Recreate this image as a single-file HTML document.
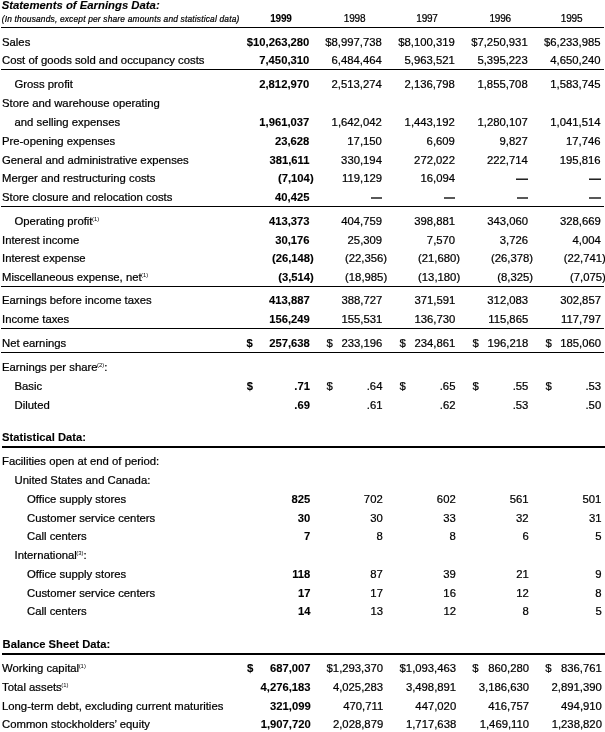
<!DOCTYPE html>
<html><head><meta charset="utf-8"><title>Statements of Earnings Data</title>
<style>
html,body{margin:0;padding:0;background:#fff;}
body{width:605px;height:732px;position:relative;overflow:hidden;filter:grayscale(1);font-family:"Liberation Sans",sans-serif;color:#000;}
.t{position:absolute;white-space:nowrap;-webkit-text-stroke:0.22px #000;line-height:19px;height:19px;}
.r{text-align:right;}
.c{text-align:center;}
.b{font-weight:bold;-webkit-text-stroke:0.1px #000;}
.i{font-style:italic;}
.bi{font-weight:bold;font-style:italic;-webkit-text-stroke:0.1px #000;}
.rule{position:absolute;left:1.4px;width:602.6px;background:#000;}
.rule.k{left:2px;width:603px;}
.sup{font-size:5.9px;position:relative;top:-3.4px;-webkit-text-stroke:0;margin-left:-0.5px;}
.hang{display:inline-block;width:0;overflow:visible;}
.d2{background:#585858 !important;}
.dash{display:inline-block;width:11.4px;height:2px;vertical-align:2px;background:linear-gradient(#8a8a8a 0,#8a8a8a 50%,#222 50%,#222 100%);}
</style></head><body>
<div class="t bi" style="left:1.70px;top:-4.18px;font-size:11.34px;">Statements of Earnings Data:</div>
<div class="t i" style="left:1.80px;top:9.84px;font-size:8.4px;letter-spacing:0.18px;">(In thousands, except per share amounts and statistical data)</div>
<div class="t c b" style="left:230.90px;width:100px;top:9.29px;font-size:10.0px;letter-spacing:-0.2px;">1999</div>
<div class="t c " style="left:304.60px;width:100px;top:9.29px;font-size:10.0px;letter-spacing:-0.2px;">1998</div>
<div class="t c " style="left:377.00px;width:100px;top:9.29px;font-size:10.0px;letter-spacing:-0.2px;">1997</div>
<div class="t c " style="left:450.20px;width:100px;top:9.29px;font-size:10.0px;letter-spacing:-0.2px;">1996</div>
<div class="t c " style="left:521.60px;width:100px;top:9.29px;font-size:10.0px;letter-spacing:-0.2px;">1995</div>
<div class="rule" style="top:26.80px;height:1.40px;"></div>
<div class="t " style="left:2.00px;top:32.83px;font-size:11.32px;">Sales</div>
<div class="t r b" style="left:209.30px;width:100px;top:32.85px;font-size:11.25px;">$10,263,280</div>
<div class="t r " style="left:281.80px;width:100px;top:32.83px;font-size:11.3px;">$8,997,738</div>
<div class="t r " style="left:354.80px;width:100px;top:32.83px;font-size:11.3px;">$8,100,319</div>
<div class="t r " style="left:427.70px;width:100px;top:32.83px;font-size:11.3px;">$7,250,931</div>
<div class="t r " style="left:500.50px;width:100px;top:32.83px;font-size:11.3px;">$6,233,985</div>
<div class="t " style="left:2.00px;top:50.83px;font-size:11.32px;">Cost of goods sold and occupancy costs</div>
<div class="t r b" style="left:209.30px;width:100px;top:50.85px;font-size:11.25px;">7,450,310</div>
<div class="t r " style="left:281.80px;width:100px;top:50.83px;font-size:11.3px;">6,484,464</div>
<div class="t r " style="left:354.80px;width:100px;top:50.83px;font-size:11.3px;">5,963,521</div>
<div class="t r " style="left:427.70px;width:100px;top:50.83px;font-size:11.3px;">5,395,223</div>
<div class="t r " style="left:500.50px;width:100px;top:50.83px;font-size:11.3px;">4,650,240</div>
<div class="rule" style="top:68.80px;height:1.15px;"></div>
<div class="t " style="left:14.50px;top:74.83px;font-size:11.32px;">Gross profit</div>
<div class="t r b" style="left:209.30px;width:100px;top:74.85px;font-size:11.25px;">2,812,970</div>
<div class="t r " style="left:281.80px;width:100px;top:74.83px;font-size:11.3px;">2,513,274</div>
<div class="t r " style="left:354.80px;width:100px;top:74.83px;font-size:11.3px;">2,136,798</div>
<div class="t r " style="left:427.70px;width:100px;top:74.83px;font-size:11.3px;">1,855,708</div>
<div class="t r " style="left:500.50px;width:100px;top:74.83px;font-size:11.3px;">1,583,745</div>
<div class="t " style="left:2.00px;top:93.83px;font-size:11.32px;">Store and warehouse operating</div>
<div class="t " style="left:14.50px;top:112.83px;font-size:11.32px;">and selling expenses</div>
<div class="t r b" style="left:209.36px;width:100px;top:112.85px;font-size:11.25px;">1,961,037</div>
<div class="t r " style="left:281.86px;width:100px;top:112.83px;font-size:11.3px;">1,642,042</div>
<div class="t r " style="left:354.86px;width:100px;top:112.83px;font-size:11.3px;">1,443,192</div>
<div class="t r " style="left:427.76px;width:100px;top:112.83px;font-size:11.3px;">1,280,107</div>
<div class="t r " style="left:500.56px;width:100px;top:112.83px;font-size:11.3px;">1,041,514</div>
<div class="t " style="left:2.00px;top:131.83px;font-size:11.32px;">Pre-opening expenses</div>
<div class="t r b" style="left:209.40px;width:100px;top:131.85px;font-size:11.25px;">23,628</div>
<div class="t r " style="left:281.90px;width:100px;top:131.83px;font-size:11.3px;">17,150</div>
<div class="t r " style="left:354.90px;width:100px;top:131.83px;font-size:11.3px;">6,609</div>
<div class="t r " style="left:427.80px;width:100px;top:131.83px;font-size:11.3px;">9,827</div>
<div class="t r " style="left:500.60px;width:100px;top:131.83px;font-size:11.3px;">17,746</div>
<div class="t " style="left:2.00px;top:150.83px;font-size:11.32px;">General and administrative expenses</div>
<div class="t r b" style="left:209.45px;width:100px;top:150.85px;font-size:11.25px;">381,611</div>
<div class="t r " style="left:281.95px;width:100px;top:150.83px;font-size:11.3px;">330,194</div>
<div class="t r " style="left:354.95px;width:100px;top:150.83px;font-size:11.3px;">272,022</div>
<div class="t r " style="left:427.85px;width:100px;top:150.83px;font-size:11.3px;">222,714</div>
<div class="t r " style="left:500.65px;width:100px;top:150.83px;font-size:11.3px;">195,816</div>
<div class="t " style="left:2.00px;top:168.83px;font-size:11.32px;">Merger and restructuring costs</div>
<div class="t r b" style="left:209.89px;width:100px;top:168.85px;font-size:11.25px;">(7,104<span class="hang">)</span></div>
<div class="t r " style="left:281.99px;width:100px;top:168.83px;font-size:11.3px;">119,129</div>
<div class="t r " style="left:354.99px;width:100px;top:168.83px;font-size:11.3px;">16,094</div>
<div class="t r " style="left:427.89px;width:100px;top:168.83px;font-size:11.3px;"><span class="dash"></span></div>
<div class="t r " style="left:500.69px;width:100px;top:168.83px;font-size:11.3px;"><span class="dash"></span></div>
<div class="t " style="left:2.00px;top:187.83px;font-size:11.32px;">Store closure and relocation costs</div>
<div class="t r b" style="left:209.53px;width:100px;top:187.85px;font-size:11.25px;">40,425</div>
<div class="t r " style="left:282.03px;width:100px;top:187.83px;font-size:11.3px;"><span class="dash d2"></span></div>
<div class="t r " style="left:355.03px;width:100px;top:187.83px;font-size:11.3px;"><span class="dash d2"></span></div>
<div class="t r " style="left:427.93px;width:100px;top:187.83px;font-size:11.3px;"><span class="dash d2"></span></div>
<div class="t r " style="left:500.73px;width:100px;top:187.83px;font-size:11.3px;"><span class="dash d2"></span></div>
<div class="rule" style="top:205.65px;height:1.10px;"></div>
<div class="t " style="left:14.50px;top:211.83px;font-size:11.32px;">Operating profit<span class="sup">(1)</span></div>
<div class="t r b" style="left:209.59px;width:100px;top:211.85px;font-size:11.25px;">413,373</div>
<div class="t r " style="left:282.09px;width:100px;top:211.83px;font-size:11.3px;">404,759</div>
<div class="t r " style="left:355.09px;width:100px;top:211.83px;font-size:11.3px;">398,881</div>
<div class="t r " style="left:427.99px;width:100px;top:211.83px;font-size:11.3px;">343,060</div>
<div class="t r " style="left:500.79px;width:100px;top:211.83px;font-size:11.3px;">328,669</div>
<div class="t " style="left:2.00px;top:230.83px;font-size:11.32px;">Interest income</div>
<div class="t r b" style="left:209.63px;width:100px;top:230.85px;font-size:11.25px;">30,176</div>
<div class="t r " style="left:282.13px;width:100px;top:230.83px;font-size:11.3px;">25,309</div>
<div class="t r " style="left:355.13px;width:100px;top:230.83px;font-size:11.3px;">7,570</div>
<div class="t r " style="left:428.03px;width:100px;top:230.83px;font-size:11.3px;">3,726</div>
<div class="t r " style="left:500.83px;width:100px;top:230.83px;font-size:11.3px;">4,004</div>
<div class="t " style="left:2.00px;top:248.83px;font-size:11.32px;">Interest expense</div>
<div class="t r b" style="left:210.07px;width:100px;top:248.85px;font-size:11.25px;">(26,148<span class="hang">)</span></div>
<div class="t r " style="left:283.37px;width:100px;top:248.83px;font-size:11.3px;">(22,356<span class="hang">)</span></div>
<div class="t r " style="left:356.37px;width:100px;top:248.83px;font-size:11.3px;">(21,680<span class="hang">)</span></div>
<div class="t r " style="left:429.27px;width:100px;top:248.83px;font-size:11.3px;">(26,378<span class="hang">)</span></div>
<div class="t r " style="left:502.07px;width:100px;top:248.83px;font-size:11.3px;">(22,741<span class="hang">)</span></div>
<div class="t " style="left:2.00px;top:267.83px;font-size:11.32px;">Miscellaneous expense, net<span class="sup">(1)</span></div>
<div class="t r b" style="left:210.11px;width:100px;top:267.85px;font-size:11.25px;">(3,514<span class="hang">)</span></div>
<div class="t r " style="left:283.41px;width:100px;top:267.83px;font-size:11.3px;">(18,985<span class="hang">)</span></div>
<div class="t r " style="left:356.41px;width:100px;top:267.83px;font-size:11.3px;">(13,180<span class="hang">)</span></div>
<div class="t r " style="left:429.31px;width:100px;top:267.83px;font-size:11.3px;">(8,325<span class="hang">)</span></div>
<div class="t r " style="left:502.11px;width:100px;top:267.83px;font-size:11.3px;">(7,075<span class="hang">)</span></div>
<div class="rule" style="top:285.90px;height:1.15px;"></div>
<div class="t " style="left:2.00px;top:290.83px;font-size:11.32px;">Earnings before income taxes</div>
<div class="t r b" style="left:209.77px;width:100px;top:290.85px;font-size:11.25px;">413,887</div>
<div class="t r " style="left:282.27px;width:100px;top:290.83px;font-size:11.3px;">388,727</div>
<div class="t r " style="left:355.27px;width:100px;top:290.83px;font-size:11.3px;">371,591</div>
<div class="t r " style="left:428.17px;width:100px;top:290.83px;font-size:11.3px;">312,083</div>
<div class="t r " style="left:500.97px;width:100px;top:290.83px;font-size:11.3px;">302,857</div>
<div class="t " style="left:2.00px;top:309.83px;font-size:11.32px;">Income taxes</div>
<div class="t r b" style="left:209.81px;width:100px;top:309.85px;font-size:11.25px;">156,249</div>
<div class="t r " style="left:282.31px;width:100px;top:309.83px;font-size:11.3px;">155,531</div>
<div class="t r " style="left:355.31px;width:100px;top:309.83px;font-size:11.3px;">136,730</div>
<div class="t r " style="left:428.21px;width:100px;top:309.83px;font-size:11.3px;">115,865</div>
<div class="t r " style="left:501.01px;width:100px;top:309.83px;font-size:11.3px;">117,797</div>
<div class="rule" style="top:327.90px;height:1.15px;"></div>
<div class="t " style="left:2.00px;top:333.83px;font-size:11.32px;">Net earnings</div>
<div class="t r b" style="left:209.86px;width:100px;top:333.85px;font-size:11.25px;">257,638</div>
<div class="t b" style="left:246.56px;top:333.85px;font-size:11.25px;">$</div>
<div class="t r " style="left:282.36px;width:100px;top:333.83px;font-size:11.3px;">233,196</div>
<div class="t " style="left:326.46px;top:333.83px;font-size:11.3px;">$</div>
<div class="t r " style="left:355.36px;width:100px;top:333.83px;font-size:11.3px;">234,861</div>
<div class="t " style="left:399.46px;top:333.83px;font-size:11.3px;">$</div>
<div class="t r " style="left:428.26px;width:100px;top:333.83px;font-size:11.3px;">196,218</div>
<div class="t " style="left:472.46px;top:333.83px;font-size:11.3px;">$</div>
<div class="t r " style="left:501.06px;width:100px;top:333.83px;font-size:11.3px;">185,060</div>
<div class="t " style="left:545.46px;top:333.83px;font-size:11.3px;">$</div>
<div class="rule" style="top:351.90px;height:1.15px;"></div>
<div class="t " style="left:2.00px;top:357.83px;font-size:11.32px;">Earnings per share<span class="sup">(2)</span>:</div>
<div class="t " style="left:14.50px;top:376.83px;font-size:11.32px;">Basic</div>
<div class="t r b" style="left:209.96px;width:100px;top:376.85px;font-size:11.25px;">.71</div>
<div class="t b" style="left:246.66px;top:376.85px;font-size:11.25px;">$</div>
<div class="t r " style="left:282.46px;width:100px;top:376.83px;font-size:11.3px;">.64</div>
<div class="t " style="left:326.56px;top:376.83px;font-size:11.3px;">$</div>
<div class="t r " style="left:355.46px;width:100px;top:376.83px;font-size:11.3px;">.65</div>
<div class="t " style="left:399.56px;top:376.83px;font-size:11.3px;">$</div>
<div class="t r " style="left:428.36px;width:100px;top:376.83px;font-size:11.3px;">.55</div>
<div class="t " style="left:472.56px;top:376.83px;font-size:11.3px;">$</div>
<div class="t r " style="left:501.16px;width:100px;top:376.83px;font-size:11.3px;">.53</div>
<div class="t " style="left:545.56px;top:376.83px;font-size:11.3px;">$</div>
<div class="t " style="left:14.50px;top:395.83px;font-size:11.32px;">Diluted</div>
<div class="t r b" style="left:210.00px;width:100px;top:395.85px;font-size:11.25px;">.69</div>
<div class="t r " style="left:282.50px;width:100px;top:395.83px;font-size:11.3px;">.61</div>
<div class="t r " style="left:355.50px;width:100px;top:395.83px;font-size:11.3px;">.62</div>
<div class="t r " style="left:428.40px;width:100px;top:395.83px;font-size:11.3px;">.53</div>
<div class="t r " style="left:501.20px;width:100px;top:395.83px;font-size:11.3px;">.50</div>
<div class="t b" style="left:2.00px;top:427.87px;font-size:11.2px;">Statistical Data:</div>
<div class="rule k" style="top:446.10px;height:1.70px;"></div>
<div class="t " style="left:2.00px;top:451.83px;font-size:11.32px;">Facilities open at end of period:</div>
<div class="t " style="left:14.50px;top:470.83px;font-size:11.32px;">United States and Canada:</div>
<div class="t " style="left:27.00px;top:489.83px;font-size:11.32px;">Office supply stores</div>
<div class="t r b" style="left:210.22px;width:100px;top:489.85px;font-size:11.25px;">825</div>
<div class="t r " style="left:282.72px;width:100px;top:489.83px;font-size:11.3px;">702</div>
<div class="t r " style="left:355.72px;width:100px;top:489.83px;font-size:11.3px;">602</div>
<div class="t r " style="left:428.62px;width:100px;top:489.83px;font-size:11.3px;">561</div>
<div class="t r " style="left:501.42px;width:100px;top:489.83px;font-size:11.3px;">501</div>
<div class="t " style="left:27.00px;top:508.83px;font-size:11.32px;">Customer service centers</div>
<div class="t r b" style="left:210.26px;width:100px;top:508.85px;font-size:11.25px;">30</div>
<div class="t r " style="left:282.76px;width:100px;top:508.83px;font-size:11.3px;">30</div>
<div class="t r " style="left:355.76px;width:100px;top:508.83px;font-size:11.3px;">33</div>
<div class="t r " style="left:428.66px;width:100px;top:508.83px;font-size:11.3px;">32</div>
<div class="t r " style="left:501.46px;width:100px;top:508.83px;font-size:11.3px;">31</div>
<div class="t " style="left:27.00px;top:526.83px;font-size:11.32px;">Call centers</div>
<div class="t r b" style="left:210.31px;width:100px;top:526.85px;font-size:11.25px;">7</div>
<div class="t r " style="left:282.81px;width:100px;top:526.83px;font-size:11.3px;">8</div>
<div class="t r " style="left:355.81px;width:100px;top:526.83px;font-size:11.3px;">8</div>
<div class="t r " style="left:428.71px;width:100px;top:526.83px;font-size:11.3px;">6</div>
<div class="t r " style="left:501.51px;width:100px;top:526.83px;font-size:11.3px;">5</div>
<div class="t " style="left:14.50px;top:545.83px;font-size:11.32px;">International<span class="sup">(3)</span>:</div>
<div class="t " style="left:27.00px;top:564.83px;font-size:11.32px;">Office supply stores</div>
<div class="t r b" style="left:210.39px;width:100px;top:564.85px;font-size:11.25px;">118</div>
<div class="t r " style="left:282.89px;width:100px;top:564.83px;font-size:11.3px;">87</div>
<div class="t r " style="left:355.89px;width:100px;top:564.83px;font-size:11.3px;">39</div>
<div class="t r " style="left:428.79px;width:100px;top:564.83px;font-size:11.3px;">21</div>
<div class="t r " style="left:501.59px;width:100px;top:564.83px;font-size:11.3px;">9</div>
<div class="t " style="left:27.00px;top:583.83px;font-size:11.32px;">Customer service centers</div>
<div class="t r b" style="left:210.43px;width:100px;top:583.85px;font-size:11.25px;">17</div>
<div class="t r " style="left:282.93px;width:100px;top:583.83px;font-size:11.3px;">17</div>
<div class="t r " style="left:355.93px;width:100px;top:583.83px;font-size:11.3px;">16</div>
<div class="t r " style="left:428.83px;width:100px;top:583.83px;font-size:11.3px;">12</div>
<div class="t r " style="left:501.63px;width:100px;top:583.83px;font-size:11.3px;">8</div>
<div class="t " style="left:27.00px;top:601.83px;font-size:11.32px;">Call centers</div>
<div class="t r b" style="left:210.48px;width:100px;top:601.85px;font-size:11.25px;">14</div>
<div class="t r " style="left:282.98px;width:100px;top:601.83px;font-size:11.3px;">13</div>
<div class="t r " style="left:355.98px;width:100px;top:601.83px;font-size:11.3px;">12</div>
<div class="t r " style="left:428.88px;width:100px;top:601.83px;font-size:11.3px;">8</div>
<div class="t r " style="left:501.68px;width:100px;top:601.83px;font-size:11.3px;">5</div>
<div class="t b" style="left:2.60px;top:634.87px;font-size:11.2px;">Balance Sheet Data:</div>
<div class="rule k" style="top:652.90px;height:1.70px;"></div>
<div class="t " style="left:2.00px;top:658.83px;font-size:11.32px;">Working capital<span class="sup">(1)</span></div>
<div class="t r b" style="left:210.61px;width:100px;top:658.85px;font-size:11.25px;">687,007</div>
<div class="t r " style="left:283.11px;width:100px;top:658.83px;font-size:11.3px;">$1,293,370</div>
<div class="t r " style="left:356.11px;width:100px;top:658.83px;font-size:11.3px;">$1,093,463</div>
<div class="t r " style="left:429.01px;width:100px;top:658.83px;font-size:11.3px;">860,280</div>
<div class="t r " style="left:501.81px;width:100px;top:658.83px;font-size:11.3px;">836,761</div>
<div class="t b" style="left:247.00px;top:658.79px;font-size:11.42px;">$</div>
<div class="t " style="left:472.20px;top:658.83px;font-size:11.3px;">$</div>
<div class="t " style="left:545.20px;top:658.83px;font-size:11.3px;">$</div>
<div class="t " style="left:2.00px;top:677.83px;font-size:11.32px;">Total assets<span class="sup">(1)</span></div>
<div class="t r b" style="left:210.65px;width:100px;top:677.85px;font-size:11.25px;">4,276,183</div>
<div class="t r " style="left:283.15px;width:100px;top:677.83px;font-size:11.3px;">4,025,283</div>
<div class="t r " style="left:356.15px;width:100px;top:677.83px;font-size:11.3px;">3,498,891</div>
<div class="t r " style="left:429.05px;width:100px;top:677.83px;font-size:11.3px;">3,186,630</div>
<div class="t r " style="left:501.85px;width:100px;top:677.83px;font-size:11.3px;">2,891,390</div>
<div class="t " style="left:2.00px;top:696.83px;font-size:11.32px;">Long-term debt, excluding current maturities</div>
<div class="t r b" style="left:210.69px;width:100px;top:696.85px;font-size:11.25px;">321,099</div>
<div class="t r " style="left:283.19px;width:100px;top:696.83px;font-size:11.3px;">470,711</div>
<div class="t r " style="left:356.19px;width:100px;top:696.83px;font-size:11.3px;">447,020</div>
<div class="t r " style="left:429.09px;width:100px;top:696.83px;font-size:11.3px;">416,757</div>
<div class="t r " style="left:501.89px;width:100px;top:696.83px;font-size:11.3px;">494,910</div>
<div class="t " style="left:2.00px;top:714.83px;font-size:11.32px;">Common stockholders’ equity</div>
<div class="t r b" style="left:210.73px;width:100px;top:714.85px;font-size:11.25px;">1,907,720</div>
<div class="t r " style="left:283.23px;width:100px;top:714.83px;font-size:11.3px;">2,028,879</div>
<div class="t r " style="left:356.23px;width:100px;top:714.83px;font-size:11.3px;">1,717,638</div>
<div class="t r " style="left:429.13px;width:100px;top:714.83px;font-size:11.3px;">1,469,110</div>
<div class="t r " style="left:501.93px;width:100px;top:714.83px;font-size:11.3px;">1,238,820</div>
</body></html>
